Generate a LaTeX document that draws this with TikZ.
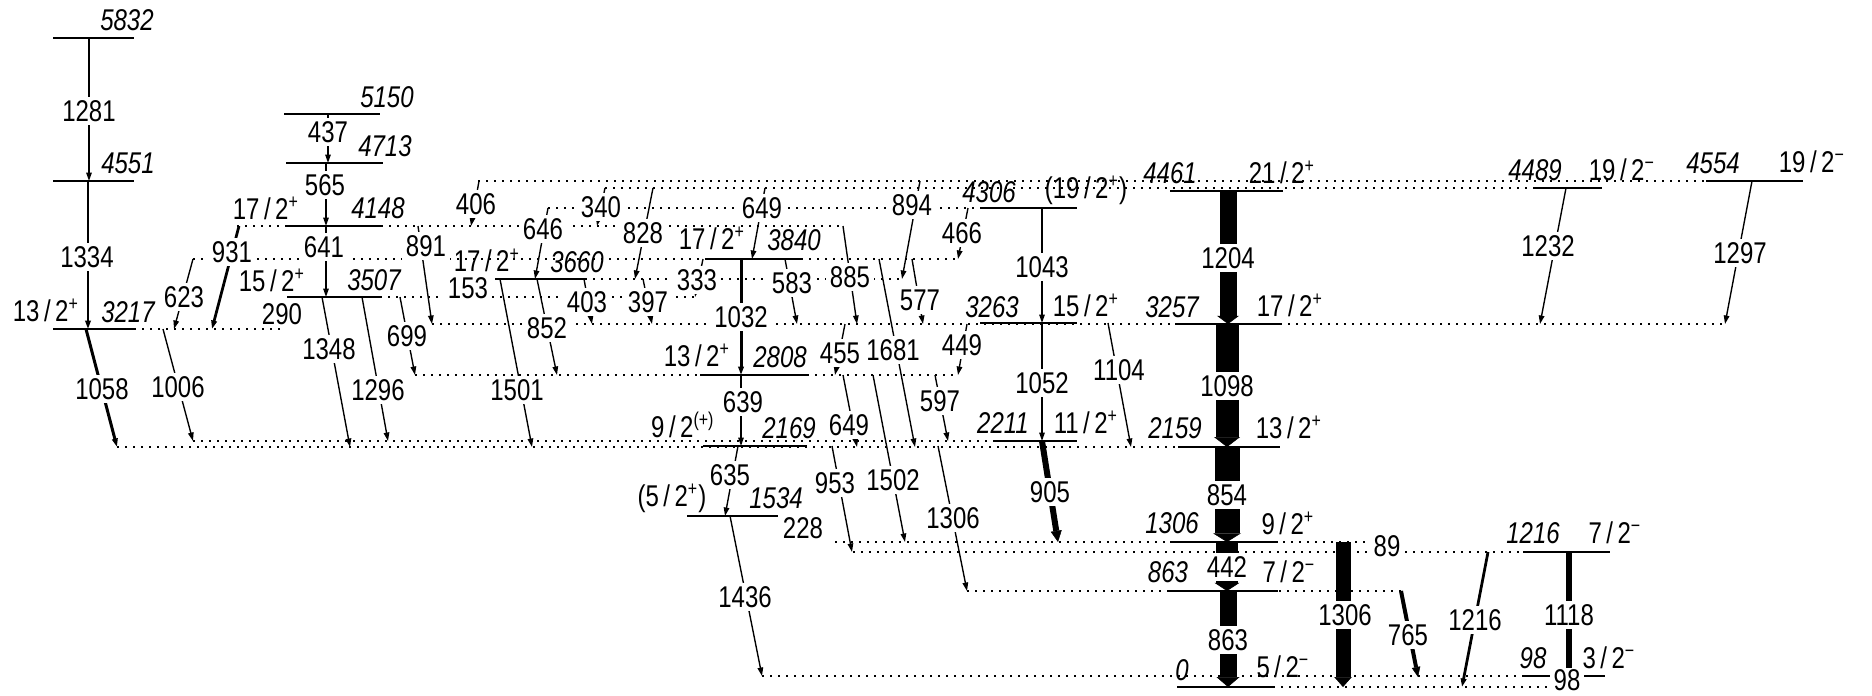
\documentclass[tikz,border=0pt]{standalone}
\usepackage{fontspec}
\setmainfont{Liberation Sans}[FakeStretch=0.8]
\usetikzlibrary{arrows.meta}
\newcommand\lf{\fontsize{12}{14}\selectfont}
\newcommand\spn[3]{#1\kern1.8pt/\kern1.8pt#2\textsuperscript{#3}}
\newcommand\fat[5]{%
  \draw[line width=#1, shorten >=#3] #4 -- #5;
  \draw[line width=0.2pt, -{Triangle[length=#3,width=#2]}] #4 -- #5;}
\begin{document}
\begin{tikzpicture}[x=0.4pt,y=-0.4pt,
  lev/.style={line width=0.75pt},
  ext/.style={line width=0.75pt, dash pattern=on 0.6pt off 2.6pt},
  tr/.style={line width=0.55pt,-{Triangle[length=3.4pt,width=2.2pt]}},
  lab/.style={fill=white,inner sep=1.5pt,font=\lf},
  en/.style={inner sep=0pt,font=\lf\itshape},
  sp/.style={inner sep=0pt,font=\lf}]
\useasboundingbox (0,0) rectangle (1872,695);
% dotted extensions
\draw[ext] (478,181) -- (1706,181);
\draw[ext] (605,188) -- (1533,188);
\draw[ext] (548,208) -- (980,208);
\draw[ext] (237,226) -- (845,226);
\draw[ext] (193,259) -- (958,259);
\draw[ext] (585,279) -- (902,279);
\draw[ext] (380,297) -- (695,297);
\draw[ext] (432,324) -- (1725,324);
\draw[ext] (134,329) -- (280,329);
\draw[ext] (415,375) -- (958,375);
\draw[ext] (193,441) -- (993,441);
\draw[ext] (117,447) -- (1178,447);
\draw[ext] (835,542) -- (1365,542);
\draw[ext] (853,552) -- (1523,552);
\draw[ext] (967,591) -- (1401,591);
\draw[ext] (762,676) -- (1522,676);
\draw[ext] (1273,687) -- (1547,687);
% levels
\draw[lev] (53,38) -- (134,38);
\draw[lev] (53,181) -- (134,181);
\draw[lev] (53,329) -- (134,329);
\draw[lev] (284,114) -- (380,114);
\draw[lev] (286,163) -- (383,163);
\draw[lev] (287,226) -- (383,226);
\draw[lev] (287,297) -- (380,297);
\draw[lev] (495,279) -- (585,279);
\draw[lev] (707,259) -- (803,259);
\draw[lev] (700,375) -- (808,375);
\draw[lev] (703,446) -- (807,446);
\draw[lev] (687,516) -- (778,516);
\draw[lev] (980,208) -- (1077,208);
\draw[lev] (980,323) -- (1077,323);
\draw[lev] (993,441) -- (1077,441);
\draw[lev] (1170,191) -- (1283,191);
\draw[lev] (1175,324) -- (1280,324);
\draw[lev] (1178,447) -- (1280,447);
\draw[lev] (1170,542) -- (1278,542);
\draw[lev] (1167,591) -- (1278,591);
\draw[lev] (1177,687) -- (1273,687);
\draw[lev] (1533,188) -- (1602,188);
\draw[lev] (1706,181) -- (1803,181);
\draw[lev] (1523,552) -- (1610,552);
\draw[lev] (1522,676) -- (1605,676);
% thin transitions
\draw[tr] (89,38) -- (89,181);
\draw[tr,line width=0.9pt] (88,181) -- (88,329);
\draw[tr] (328,114) -- (328,163);
\draw[tr] (326,163) -- (326,226);
\draw[tr] (326,226) -- (326,297);
\draw[tr,line width=1.1pt] (239,226) -- (212,329);
\draw[tr] (193,259) -- (174,329);
\draw[tr,line width=1.2pt] (86,329) -- (117,447);
\draw[tr] (163,329) -- (193,441);
\draw[tr] (322,297) -- (350,447);
\draw[tr] (362,297) -- (388,441);
\draw[tr] (400,297) -- (415,375);
\draw[tr] (418,226) -- (432,324);
\draw[tr] (479,181) -- (471,226);
\draw[tr] (605,188) -- (597,226);
\draw[tr] (548,208) -- (535,279);
\draw[tr] (500,279) -- (532,447);
\draw[tr] (537,279) -- (557,375);
\draw[tr] (584,279) -- (592,324);
\draw[tr] (653,188) -- (635,279);
\draw[tr] (643,279) -- (652,324);
\draw[tr] (703,259) -- (695,297);
\draw[tr] (765,188) -- (752,259);
\draw[tr,line width=1.2pt] (741,259) -- (741,375);
\draw[tr] (785,259) -- (797,324);
\draw[tr] (843,226) -- (857,324);
\draw[tr] (879,259) -- (915,447);
\draw[tr] (845,324) -- (835,375);
\draw[tr] (843,375) -- (857,447);
\draw[tr] (741,375) -- (741,446);
\draw[tr] (738,446) -- (725,516);
\draw[tr] (730,516) -- (762,676);
\draw[tr] (832,446) -- (852,552);
\draw[tr] (873,375) -- (905,542);
\draw[tr] (938,446) -- (967,591);
\draw[tr] (920,181) -- (902,279);
\draw[tr] (968,208) -- (958,259);
\draw[tr] (912,259) -- (923,324);
\draw[tr] (967,324) -- (958,375);
\draw[tr] (935,375) -- (948,441);
\draw[tr] (1042,208) -- (1042,323);
\draw[tr] (1042,323) -- (1042,441);
\draw[tr] (1108,323) -- (1131,447);
\draw[tr] (1566,188) -- (1540,324);
\draw[tr] (1752,181) -- (1725,324);
\draw[tr,line width=1.1pt] (1488,552) -- (1462,687);
% intense transitions
\fat{2.4pt}{4.4pt}{4.5pt}{(1042,441)}{(1058,542)}
\fat{1.6pt}{3.4pt}{4pt}{(1401,591)}{(1418,677)}
\fat{6.8pt}{8.8pt}{3.3pt}{(1228,191)}{(1228,324)}
\fat{9.2pt}{10.4pt}{4pt}{(1227,324)}{(1227,447)}
\fat{10pt}{11.2pt}{3.5pt}{(1227,447)}{(1227,542)}
\fat{8.8pt}{10pt}{3.3pt}{(1227,542)}{(1227,591)}
\fat{6.8pt}{9.2pt}{4pt}{(1228,591)}{(1228,687)}
\fat{6pt}{7pt}{4pt}{(1343,542)}{(1343,687)}
\draw[line width=2.4pt] (1569,552) -- (1569,676);
% transition labels
\node[lab] (t1281) at (89,111) {1281};
\node[lab] (t1334) at (87,257) {1334};
\node[lab] (t437) at (328,132) {437};
\node[lab] (t565) at (325,185) {565};
\node[lab] (t641) at (324,247) {641};
\node[lab] (t931) at (232,252) {931};
\node[lab] (t623) at (184,297) {623};
\node[lab] (t290) at (282,314) {290};
\node[lab] (t1058) at (102,389) {1058};
\node[lab] (t1006) at (178,387) {1006};
\node[lab] (t1348) at (329,349) {1348};
\node[lab] (t1296) at (378,390) {1296};
\node[lab] (t699) at (407,336) {699};
\node[lab] (t891) at (426,246) {891};
\node[lab] (t406) at (476,204) {406};
\node[lab] (t340) at (601,207) {340};
\node[lab] (t646) at (543,229) {646};
\node[lab] (t153) at (468,288) {153};
\node[lab] (t1501) at (517,390) {1501};
\node[lab] (t852) at (547,328) {852};
\node[lab] (t403) at (587,302) {403};
\node[lab] (t828) at (643,233) {828};
\node[lab] (t397) at (648,302) {397};
\node[lab] (t333) at (697,280) {333};
\node[lab] (t649a) at (762,208) {649};
\node[lab] (t1032) at (741,317) {1032};
\node[lab] (t583) at (792,283) {583};
\node[lab] (t885) at (850,277) {885};
\node[lab] (t1681) at (893,350) {1681};
\node[lab] (t455) at (840,353) {455};
\node[lab] (t649b) at (849,425) {649};
\node[lab] (t639) at (743,402) {639};
\node[lab] (t635) at (730,475) {635};
\node[lab] (t1436) at (745,597) {1436};
\node[lab] (t228) at (803,528) {228};
\node[lab] (t953) at (835,483) {953};
\node[lab] (t1502) at (893,480) {1502};
\node[lab] (t1306a) at (953,518) {1306};
\node[lab] (t894) at (912,205) {894};
\node[lab] (t466) at (962,233) {466};
\node[lab] (t577) at (920,300) {577};
\node[lab] (t449) at (962,345) {449};
\node[lab] (t597) at (940,401) {597};
\node[lab] (t1043) at (1042,267) {1043};
\node[lab] (t1052) at (1042,383) {1052};
\node[lab] (t1104) at (1119,370) {1104};
\node[lab] (t905) at (1050,492) {905};
\node[lab] (t1204) at (1228,258) {1204};
\node[lab] (t1098) at (1227,386) {1098};
\node[lab] (t854) at (1227,495) {854};
\node[lab] (t442) at (1227,567) {442};
\node[lab] (t863) at (1228,640) {863};
\node[lab] (t1306b) at (1345,615) {1306};
\node[lab] (t89) at (1387,546) {89};
\node[lab] (t765) at (1408,635) {765};
\node[lab] (t1216) at (1475,620) {1216};
\node[lab] (t1118) at (1569,615) {1118};
\node[lab,inner ysep=0.4pt] (t98) at (1567,680) {98};
\node[lab] (t1232) at (1548,246) {1232};
\node[lab] (t1297) at (1740,253) {1297};
% level energies
\node[en] (e5832) at (127,20) {5832};
\node[en] (e4551) at (128,163) {4551};
\node[en] (e3217) at (128,312) {3217};
\node[en] (e5150) at (387,97) {5150};
\node[en] (e4713) at (385,146) {4713};
\node[en] (e4148) at (378,208) {4148};
\node[en] (e3507) at (374,280) {3507};
\node[en] (e3660) at (577,262) {3660};
\node[en] (e3840) at (794,240) {3840};
\node[en] (e2808) at (780,357) {2808};
\node[en] (e2169) at (789,428) {2169};
\node[en] (e1534) at (776,498) {1534};
\node[en] (e4306) at (989,192) {4306};
\node[en] (e3263) at (992,307) {3263};
\node[en] (e2211) at (1003,423) {2211};
\node[en] (e4461) at (1170,173) {4461};
\node[en] (e3257) at (1172,307) {3257};
\node[en] (e2159) at (1175,428) {2159};
\node[en] (e1306) at (1172,523) {1306};
\node[en] (e863) at (1168,572) {863};
\node[en] (e0) at (1182,670) {0};
\node[en] (e4489) at (1535,170) {4489};
\node[en] (e4554) at (1713,163) {4554};
\node[en] (e1216) at (1533,533) {1216};
\node[en] (e98) at (1533,658) {98};
% spins
\node[sp] (s3217) at (46,310) {\spn{13}{2}{+}};
\node[sp] (s4148) at (266,208) {\spn{17}{2}{+}};
\node[sp] (s3507) at (272,280) {\spn{15}{2}{+}};
\node[sp] (s3660) at (487,260) {\spn{17}{2}{+}};
\node[sp] (s3840) at (712,238) {\spn{17}{2}{+}};
\node[sp] (s2808) at (697,355) {\spn{13}{2}{+}};
\node[sp] (s2169) at (683,425) {\spn{9}{2}{(+)}};
\node[sp] (s1534) at (672,498) {(\spn{5}{2}{+})};
\node[sp] (s4306) at (1086,190) {(\spn{19}{2}{+})};
\node[sp] (s3263) at (1086,305) {\spn{15}{2}{+}};
\node[sp] (s2211) at (1086,422) {\spn{11}{2}{+}};
\node[sp] (s4461) at (1282,172) {\spn{21}{2}{+}};
\node[sp] (s3257) at (1290,305) {\spn{17}{2}{+}};
\node[sp] (s2159) at (1289,427) {\spn{13}{2}{+}};
\node[sp] (s1306) at (1288,523) {\spn{9}{2}{+}};
\node[sp] (s863) at (1289,572) {\spn{7}{2}{−}};
\node[sp] (s0) at (1283,667) {\spn{5}{2}{−}};
\node[sp] (s4489) at (1622,170) {\spn{19}{2}{−}};
\node[sp] (s4554) at (1812,162) {\spn{19}{2}{−}};
\node[sp] (s1216) at (1615,533) {\spn{7}{2}{−}};
\node[sp] (s98) at (1609,658) {\spn{3}{2}{−}};
\end{tikzpicture}
\end{document}
